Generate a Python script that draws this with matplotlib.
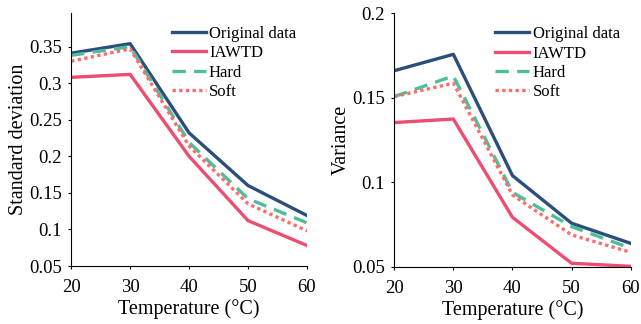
import matplotlib
matplotlib.use("Agg")
import matplotlib.pyplot as plt

temps = [20, 30, 40, 50, 60]
series_names = ["Original data", "IAWTD", "Hard", "Soft"]

std_original = [0.341, 0.354, 0.232, 0.160, 0.119]
std_iawtd = [0.308, 0.312, 0.200, 0.112, 0.078]
std_hard = [0.338, 0.350, 0.219, 0.142, 0.109]
std_soft = [0.330, 0.347, 0.214, 0.135, 0.098]

var_original = [0.166, 0.1757, 0.1039, 0.0757, 0.0638]
var_iawtd = [0.1353, 0.1374, 0.0792, 0.052, 0.0502]
var_hard = [0.1507, 0.1629, 0.094, 0.0737, 0.0609]
var_soft = [0.1507, 0.1586, 0.0924, 0.0688, 0.0585]

std_yticks = [0.05, 0.1, 0.15, 0.2, 0.25, 0.3, 0.35]
std_ylabels = ["0.05", "0.1", "0.15", "0.2", "0.25", "0.3", "0.35"]
var_yticks = [0.05, 0.1, 0.15, 0.2]
var_ylabels = ["0.05", "0.1", "0.15", "0.2"]

colors = ["#2B4F7A", "#EE4D72", "#4DBE98", "#FF6B6E"]
styles = [dict(ls="-"), dict(ls="-"), dict(ls=(0, (4, 2.5))), dict(ls=(0, (1, 1)))]

plt.rcParams["font.family"] = ["Liberation Serif", "DejaVu Serif"]
plt.rcParams["font.size"] = 13

fig = plt.figure(figsize=(6.41, 3.24), dpi=100)
ax1 = fig.add_axes([0.111, 0.179, 0.368, 0.781])
ax2 = fig.add_axes([0.615, 0.177, 0.369, 0.782])

def draw(ax, data, yticks, ylabels, ylim, ylabel):
    for vals, name, c, st in zip(data, series_names, colors, styles):
        ax.plot(temps, vals, color=c, lw=2.4, label=name, **st)
    ax.set_xlim(20, 60)
    ax.set_ylim(*ylim)
    ax.set_xticks(temps)
    ax.set_yticks(yticks)
    ax.set_yticklabels(ylabels)
    ax.spines["top"].set_visible(False)
    ax.spines["right"].set_visible(False)
    ax.tick_params(direction="out", length=2.5, width=0.8, labelsize=13.5)
    ax.tick_params(axis="x", pad=7)
    ax.tick_params(axis="y", pad=4)
    ax.set_xlabel("Temperature (°C)", fontsize=14.5, labelpad=2)
    ax.set_ylabel(ylabel, fontsize=14.5, labelpad=1)
    ax.legend(loc="upper right", frameon=False, fontsize=12, handlelength=2.05,
              handletextpad=0.2, labelspacing=0.2, borderaxespad=0.0,
              bbox_to_anchor=(0.982, 0.975))

draw(ax1, [std_original, std_iawtd, std_hard, std_soft], std_yticks, std_ylabels,
     (0.05, 0.396), "Standard deviation")
draw(ax2, [var_original, var_iawtd, var_hard, var_soft], var_yticks, var_ylabels,
     (0.05, 0.2), "Variance")

fig.savefig("out.png", dpi=100)
